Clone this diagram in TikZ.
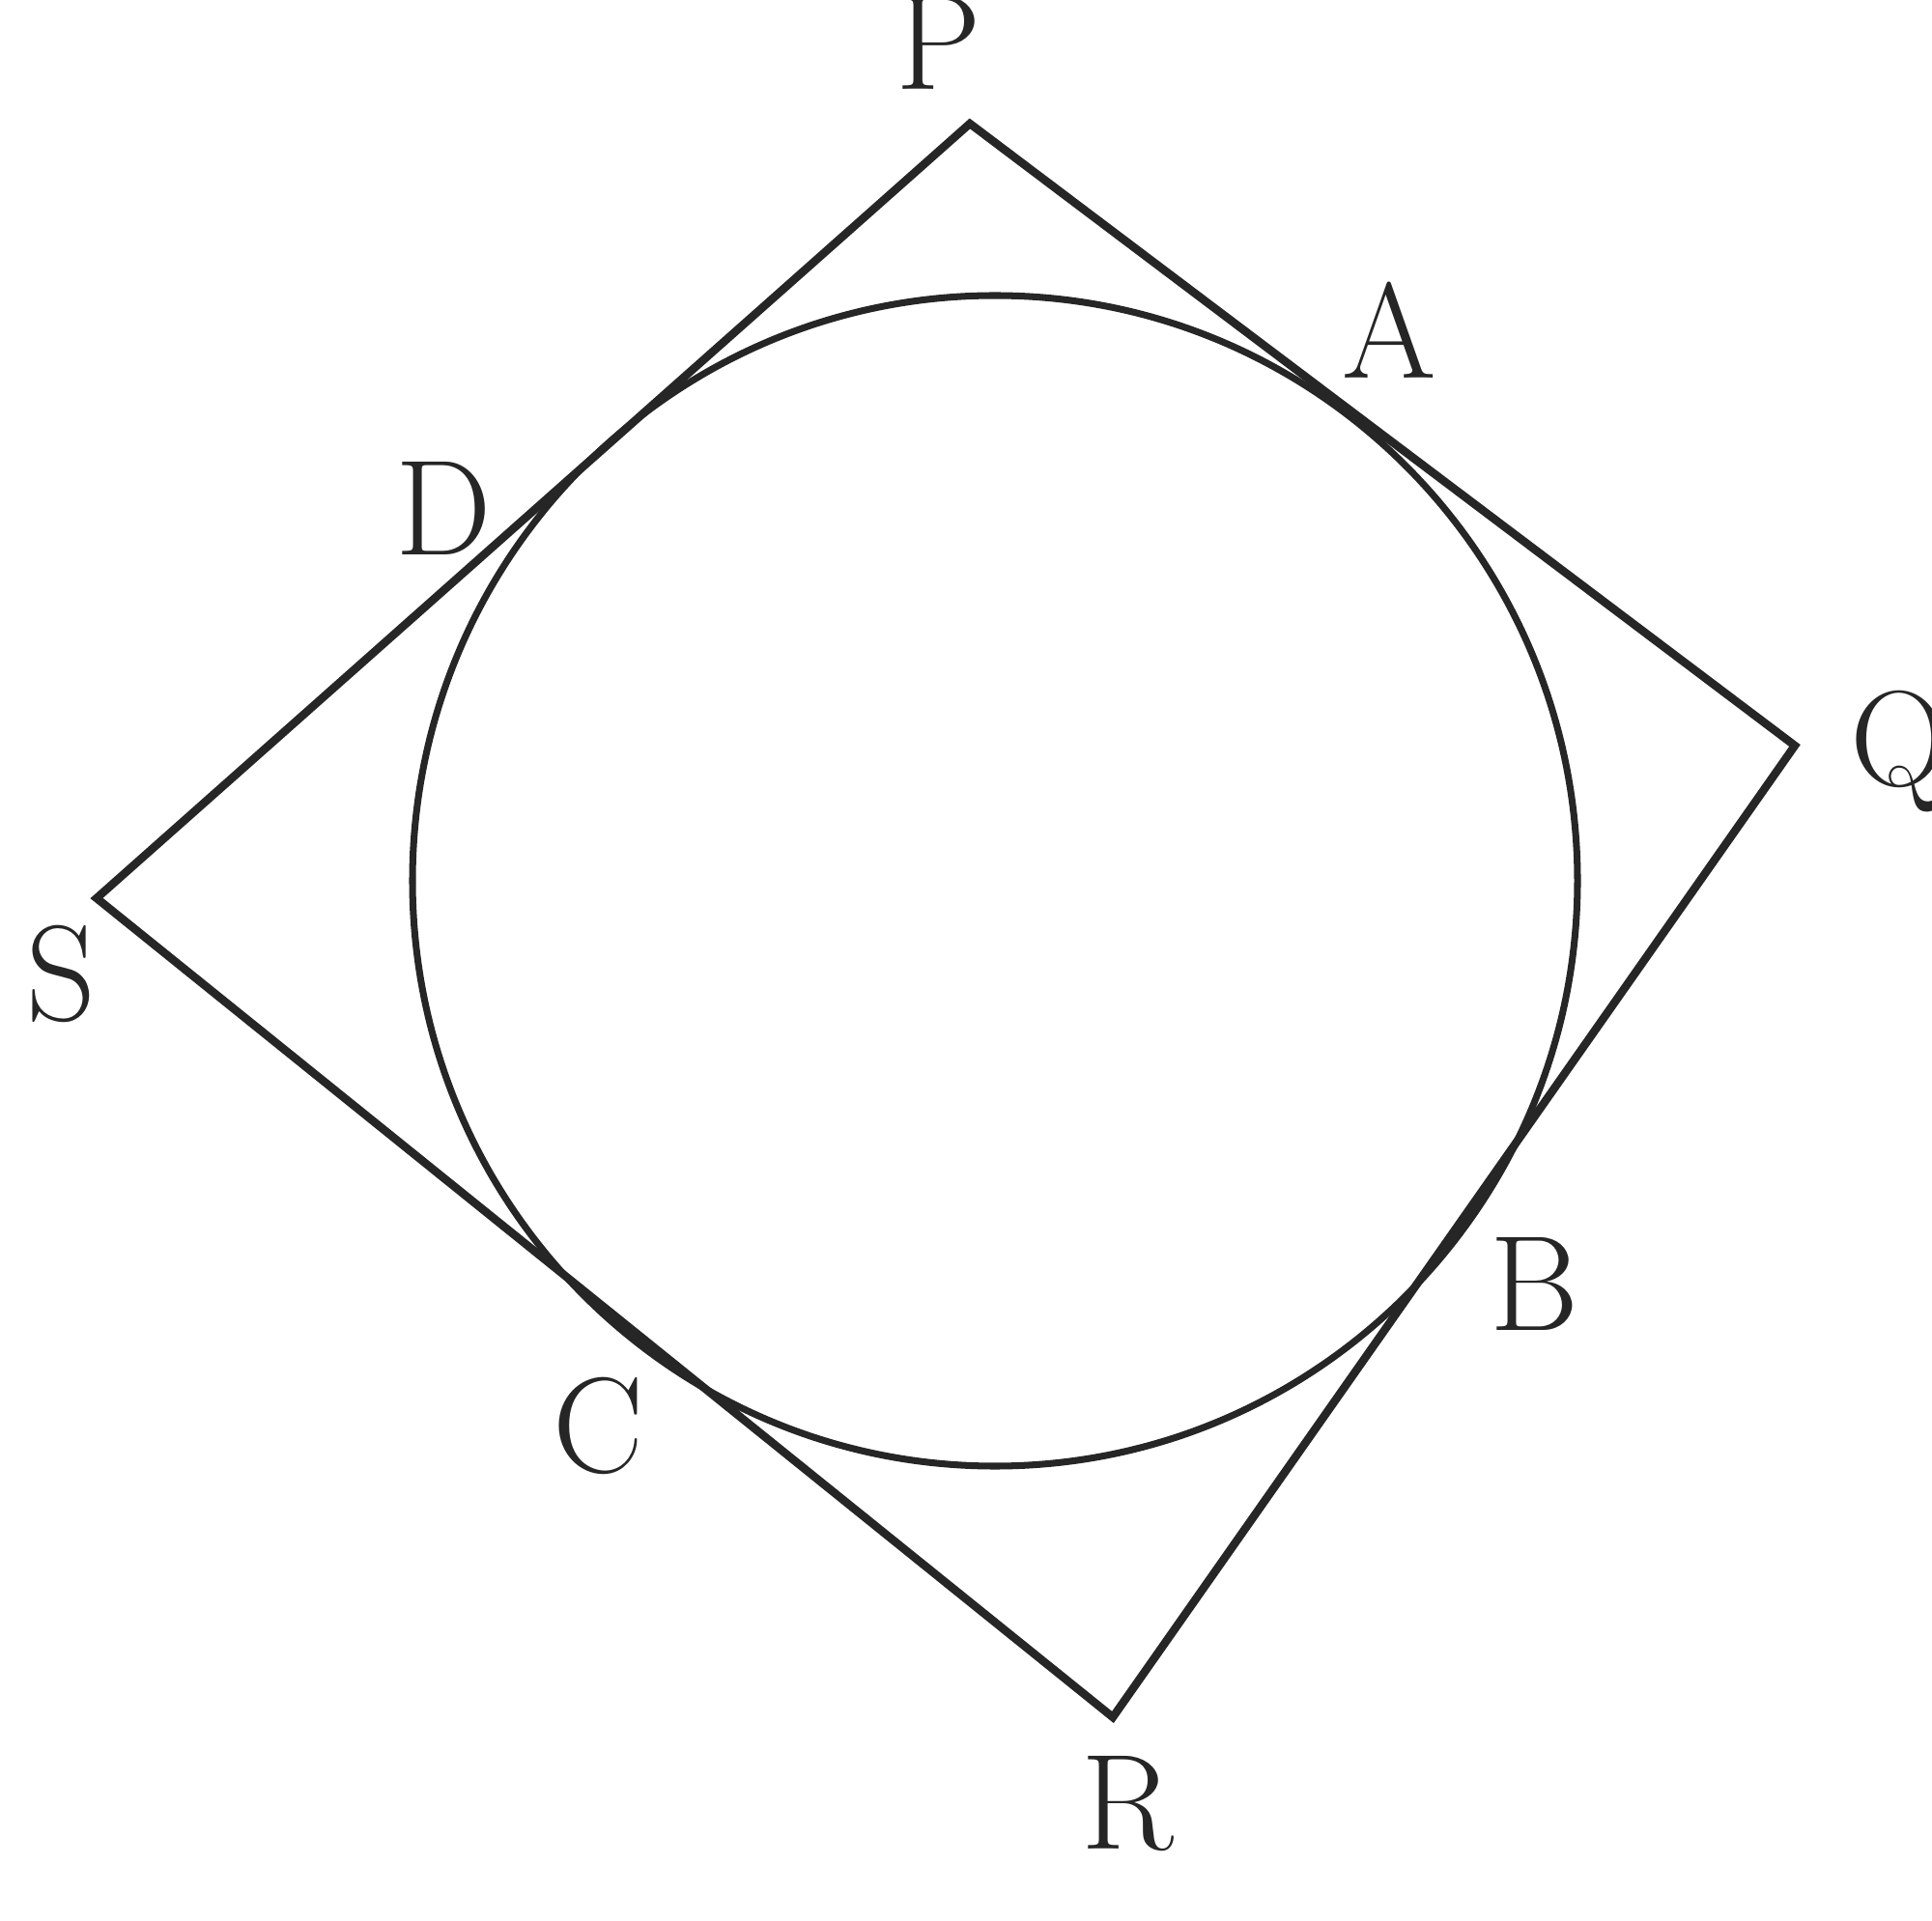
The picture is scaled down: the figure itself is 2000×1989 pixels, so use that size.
\documentclass[tikz,border=0pt]{standalone}
\begin{document}
\begin{tikzpicture}[x=0.01cm,y=-0.01cm,
  side/.style={line width=2.4pt,draw=black!85,line join=miter},
  circ/.style={line width=2pt,draw=black!85},
  lab/.style={font=\fontsize{40}{48}\selectfont,text=black!85,inner sep=0pt}]
\useasboundingbox (0,0) rectangle (2000,1989);
\coordinate (P) at (1004,128);
\coordinate (Q) at (1858,772);
\coordinate (R) at (1152,1778);
\coordinate (S) at (100,930);
\coordinate (O) at (1030,912);
\draw[side] (P) -- (Q) -- (R) -- (S) -- cycle;
\draw[circ] (O) ellipse [x radius=603, y radius=606];
\node[lab] (lP) at (972,44) {P};
\node[lab] (lA) at (1438,342) {A};
\node[lab] (lD) at (459,526) {D};
\node[lab] (lQ) at (1966,778) {Q};
\node[lab] (lS) at (63,1008) {S};
\node[lab] (lB) at (1588,1329) {B};
\node[lab] (lC) at (619,1476) {C};
\node[lab] (lR) at (1167,1868) {R};
\end{tikzpicture}
\end{document}
